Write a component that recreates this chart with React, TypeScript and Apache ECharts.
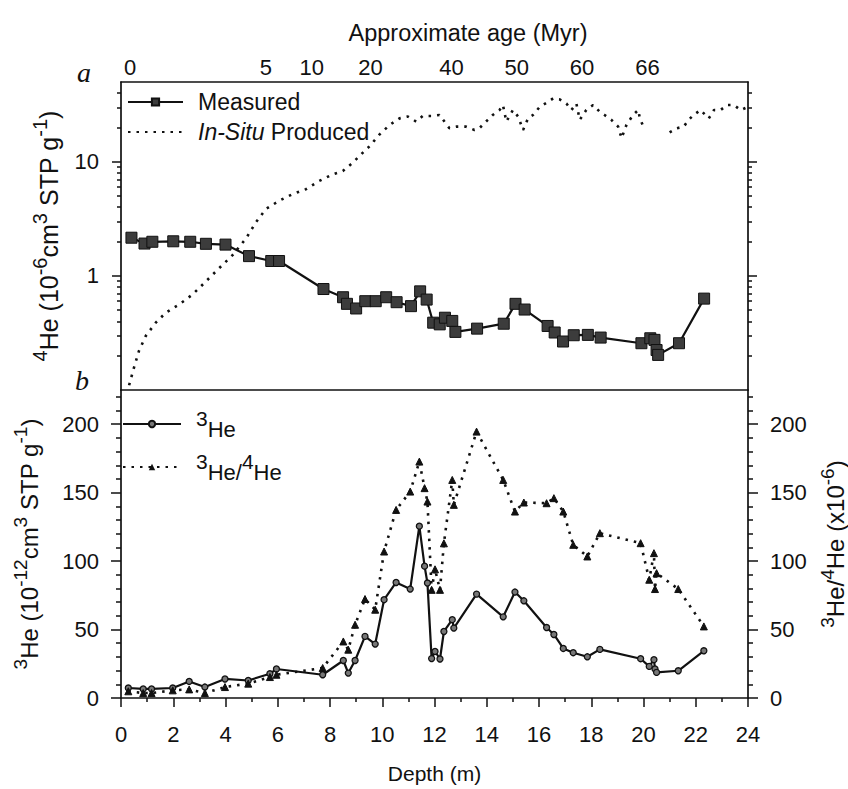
import React, { useEffect, useRef } from 'react';
import * as echarts from 'echarts';

// ---------- Panel a: 4He ----------
const depthA = [0.4, 0.9, 1.2, 2.0, 2.65, 3.25, 4.0, 4.9, 5.75, 6.05, 7.75, 8.5, 8.65, 9.0, 9.35, 9.75, 10.15, 10.55, 11.1, 11.45, 11.7, 11.95, 12.2, 12.4, 12.68, 12.8, 13.63, 14.65, 15.1, 15.45, 16.33, 16.6, 16.92, 17.33, 17.87, 18.36, 19.92, 20.26, 20.42, 20.5, 20.56, 21.36, 22.32];
const he4Measured = [2.16, 1.92, 1.99, 2.01, 1.99, 1.91, 1.88, 1.49, 1.35, 1.35, 0.767, 0.65, 0.569, 0.518, 0.6, 0.6, 0.65, 0.588, 0.543, 0.732, 0.62, 0.389, 0.376, 0.43, 0.403, 0.323, 0.345, 0.381, 0.569, 0.507, 0.364, 0.319, 0.266, 0.302, 0.304, 0.288, 0.257, 0.284, 0.275, 0.224, 0.203, 0.257, 0.632];

const insituDepth = [0.31, 0.5, 0.69, 0.95, 1.33, 1.71, 2.22, 2.73, 3.25, 3.76, 4.27, 4.78, 5.17, 5.55, 6.06, 6.57, 7.08, 7.59, 8.1, 8.49, 8.87, 9.25, 9.51, 9.89, 10.28, 10.66, 10.98, 11.3, 11.55, 11.87, 12.19, 12.38, 12.57, 12.83, 13.21, 13.53, 13.72, 14.04, 14.23, 14.49, 14.62, 14.75, 15.0, 15.2, 15.39, 15.58, 15.77, 16.03, 16.35, 16.54, 16.79, 17.05, 17.24, 17.43, 17.56, 17.81, 18.07, 18.32, 18.51, 18.77, 19.03, 19.16, 19.35, 19.6, 19.8, 19.86, 20.05, 20.5, 21.0, 21.28, 21.54, 21.73, 21.92, 22.18, 22.5, 22.7, 22.95, 23.2, 23.46, 23.72, 24.0];
const insituValue = [0.11, 0.158, 0.221, 0.298, 0.389, 0.475, 0.561, 0.684, 0.894, 1.17, 1.52, 2.12, 2.96, 3.86, 4.56, 5.21, 5.75, 6.79, 7.76, 8.29, 9.8, 11.97, 13.65, 17.3, 21.0, 24.0, 24.9, 22.5, 25.2, 25.2, 25.7, 22.5, 19.7, 20.3, 20.3, 19.0, 19.7, 23.3, 25.7, 28.4, 31.4, 22.5, 28.4, 24.9, 19.0, 24.0, 25.7, 30.3, 33.5, 35.9, 35.2, 32.4, 28.4, 32.4, 23.3, 28.4, 31.4, 27.5, 25.7, 23.3, 20.3, 16.1, 21.1, 25.7, 28.4, 24.0, 19.0, null, 18.1, 19.7, 20.3, 23.3, 25.7, 28.4, 24.0, 28.4, 28.4, 31.4, 31.4, 28.4, 30.3];

// ---------- Panel b: 3He and 3He/4He ----------
const depthB = [0.28, 0.85, 1.17, 1.98, 2.61, 3.21, 3.98, 4.87, 5.7, 5.95, 7.72, 8.51, 8.7, 8.96, 9.34, 9.73, 10.07, 10.53, 11.07, 11.42, 11.62, 11.73, 11.89, 12.02, 12.21, 12.36, 12.68, 12.74, 13.61, 14.63, 15.08, 15.42, 16.29, 16.57, 16.93, 17.31, 17.85, 18.33, 19.89, 20.22, 20.4, 20.44, 20.5, 21.33, 22.31];
const he3 = [7.3, 6.6, 6.6, 7.3, 12.1, 8.0, 13.9, 12.8, 17.7, 21.2, 17.0, 27.4, 18.2, 27.4, 45.0, 39.4, 71.8, 84.4, 79.6, 125.5, 96.3, 84.0, 28.8, 34.0, 28.5, 48.6, 57.2, 51.1, 75.9, 59.3, 77.4, 71.0, 51.5, 46.4, 36.2, 33.1, 30.1, 35.5, 28.7, 23.1, 28.0, 21.2, 18.7, 19.9, 34.5];
const he3he4Ratio = [4.9, 3.6, 3.6, 5.6, 6.3, 3.6, 8.0, 10.5, 15.3, 17.0, 21.9, 41.3, 35.3, 53.5, 72.3, 64.5, 107, 137.4, 150.8, 172.7, 153.3, 143.5, 79, 94, 79, 113, 159.3, 141.1, 194.6, 159.3, 136.2, 142.8, 142.3, 146, 136.2, 111.9, 103.4, 120.4, 113.1, 86.4, 105.8, 79.6, 91.2, 79.6, 52.3];

// ---------- Tick labels ----------
const ageDepths = [0.35, 5.55, 7.3, 9.55, 12.65, 15.15, 17.65, 20.15];
const ageLabels = ['0', '5', '10', '20', '40', '50', '60', '66'];
const logMajor = [1, 10];
const logMinor = [0.2, 0.3, 0.4, 0.5, 0.6, 0.7, 0.8, 0.9, 2, 3, 4, 5, 6, 7, 8, 9, 20, 30, 40];
const linMajor = [0, 50, 100, 150, 200];
const linMinor = [10, 20, 30, 40, 60, 70, 80, 90, 110, 120, 130, 140, 160, 170, 180, 190, 210, 220];

const FONT = '"Liberation Sans", Arial, Helvetica, sans-serif';
const SERIF = '"Liberation Serif", "DejaVu Serif", serif';
const INK = '#111';
const TICK_FS = 22;

const zip = (xs: number[], ys: (number | null)[]) => xs.map((x, i) => [x, ys[i] == null ? '-' : ys[i]]);

const axisLine = { show: true, lineStyle: { color: INK, width: 1.7 } };
const supRich = (n: number, s: number) => ({
  s: { fontSize: s, lineHeight: s, verticalAlign: 'top', fontFamily: FONT, color: INK },
  n: { fontSize: n, lineHeight: n + 6, verticalAlign: 'bottom', fontFamily: FONT, color: INK },
});

function logAxis(position: 'left' | 'right', major: boolean, extra: any = {}) {
  return {
    type: 'log',
    logBase: 10,
    gridIndex: 0,
    position,
    min: 0.1,
    max: 50,
    splitLine: { show: false },
    axisLine: major ? axisLine : { show: false },
    axisTick: {
      show: true,
      inside: false,
      length: major ? 9 : 4,
      customValues: major ? logMajor : logMinor,
      lineStyle: { color: INK, width: 1.5 },
    },
    axisLabel: { show: false },
    ...extra,
  };
}

function linAxis(position: 'left' | 'right', major: boolean, extra: any = {}) {
  return {
    type: 'value',
    gridIndex: 1,
    position,
    min: 0,
    max: 225,
    splitLine: { show: false },
    axisLine: major ? axisLine : { show: false },
    axisTick: {
      show: true,
      inside: false,
      length: major ? 10 : 5,
      customValues: major ? linMajor : linMinor,
      lineStyle: { color: INK, width: 1.5 },
    },
    axisLabel: { show: false },
    ...extra,
  };
}

const tickLabel = { show: true, margin: 22, fontSize: TICK_FS, fontFamily: FONT, color: INK };

const option: any = {
  animation: false,
  backgroundColor: '#fff',
  textStyle: { fontFamily: FONT, color: INK },
  grid: [
    { left: 121, top: 82, width: 627, height: 308, outerBoundsMode: 'none', containLabel: false },
    { left: 121, top: 390, width: 627, height: 308, outerBoundsMode: 'none', containLabel: false },
  ],
  legend: [
    {
      data: [
        { name: 'Measured' },
        { name: 'In-Situ Produced', itemStyle: { opacity: 0 } },
      ],
      orient: 'vertical',
      left: 127,
      top: 90,
      padding: 0,
      itemWidth: 55,
      itemHeight: 9,
      itemGap: 6,
      textStyle: {
        fontSize: 23,
        fontFamily: FONT,
        color: INK,
        lineHeight: 24,
        padding: [0, 0, 0, 10],
        rich: { i: { fontStyle: 'italic', fontSize: 23, lineHeight: 24, fontFamily: FONT, color: INK } },
      },
      formatter: (name: string) => (name === 'In-Situ Produced' ? '{i|In-Situ} Produced' : name),
    },
    {
      data: ['3He', '3He/4He'],
      orient: 'vertical',
      left: 122,
      top: 408,
      padding: 0,
      itemWidth: 58,
      itemHeight: 8,
      itemGap: 11,
      textStyle: {
        fontFamily: FONT,
        color: INK,
        padding: [0, 0, 0, 10],
        rich: {
          s: { fontSize: 21, lineHeight: 21, verticalAlign: 'top', fontFamily: FONT, color: INK },
          t: { fontSize: 22, lineHeight: 32, verticalAlign: 'bottom', fontFamily: FONT, color: INK },
        },
      },
      formatter: (name: string) => (name === '3He' ? '{s|3}{t|He}' : '{s|3}{t|He/}{s|4}{t|He}'),
    },
  ],
  xAxis: [
    {
      type: 'value', gridIndex: 0, position: 'bottom', min: 0, max: 24,
      axisLine, axisTick: { show: false }, axisLabel: { show: false }, splitLine: { show: false },
    },
    {
      type: 'value', gridIndex: 0, position: 'top', min: 0, max: 24,
      axisLine, axisTick: { show: false }, splitLine: { show: false },
      axisLabel: {
        show: true,
        customValues: ageDepths,
        margin: 4,
        fontSize: TICK_FS,
        fontFamily: FONT,
        color: INK,
        formatter: (v: number) => {
          const i = ageDepths.findIndex((d) => Math.abs(d - v) < 1e-6);
          return i >= 0 ? ageLabels[i] : '';
        },
      },
    },
    {
      type: 'value', gridIndex: 1, position: 'bottom', min: 0, max: 24, interval: 2,
      axisLine,
      axisTick: { show: true, inside: false, length: 9, lineStyle: { color: INK, width: 1.5 } },
      minorTick: { show: true, splitNumber: 2, length: 4, lineStyle: { color: INK, width: 1.5 } },
      splitLine: { show: false },
      axisLabel: { ...tickLabel, margin: 25 },
      name: 'Depth (m)',
      nameLocation: 'middle',
      nameGap: 65,
      nameTextStyle: { fontSize: 21, fontFamily: FONT, color: INK },
    },
  ],
  yAxis: [
    logAxis('left', true, {
      axisLabel: { ...tickLabel, customValues: logMajor },
      name: '{s|4}{n|He (10}{s|-6}{n|cm}{s|3}{n| STP g}{s|-1}{n|)}',
      nameLocation: 'middle',
      nameRotate: 90,
      nameGap: 60,
      nameTextStyle: { rich: supRich(25, 20) },
    }),
    logAxis('left', false),
    logAxis('right', true),
    logAxis('right', false),
    linAxis('left', true, {
      axisLabel: { ...tickLabel, customValues: linMajor },
      name: '{s|3}{n|He (10}{s|-12}{n|cm}{s|3}{n| STP g}{s|-1}{n|)}',
      nameLocation: 'middle',
      nameRotate: 90,
      nameGap: 80,
      nameTextStyle: { rich: supRich(24, 19) },
    }),
    linAxis('left', false),
    linAxis('right', true, {
      axisLabel: { ...tickLabel, customValues: linMajor },
      name: '{s|3}{n|He/}{s|4}{n|He (x10}{s|-6}{n|)}',
      nameLocation: 'middle',
      nameRotate: 90,
      nameGap: 68,
      nameTextStyle: { rich: supRich(24, 19) },
    }),
    linAxis('right', false),
  ],
  series: [
    {
      name: 'Measured',
      type: 'line',
      xAxisIndex: 0,
      yAxisIndex: 0,
      data: zip(depthA, he4Measured),
      symbol: 'rect',
      symbolSize: 11,
      itemStyle: { color: '#3c3c3c', borderColor: INK, borderWidth: 1 },
      lineStyle: { color: INK, width: 2.2 },
      z: 3,
    },
    {
      name: 'In-Situ Produced',
      type: 'line',
      xAxisIndex: 0,
      yAxisIndex: 0,
      data: zip(insituDepth, insituValue),
      symbol: 'none',
      connectNulls: false,
      itemStyle: { color: INK },
      lineStyle: { color: INK, width: 2.6, type: [2.5, 6] },
    },
    {
      name: '3He',
      type: 'line',
      xAxisIndex: 2,
      yAxisIndex: 4,
      data: zip(depthB, he3),
      symbol: 'circle',
      symbolSize: 6,
      itemStyle: { color: '#777', borderColor: INK, borderWidth: 1.3 },
      lineStyle: { color: INK, width: 2.2 },
      z: 3,
    },
    {
      name: '3He/4He',
      type: 'line',
      xAxisIndex: 2,
      yAxisIndex: 6,
      data: zip(depthB, he3he4Ratio),
      symbol: 'triangle',
      symbolSize: 7,
      itemStyle: { color: INK, borderColor: INK },
      lineStyle: { color: INK, width: 2.6, type: [2.5, 6] },
    },
  ],
  graphic: [
    {
      type: 'text', x: 468, y: 33,
      style: { text: 'Approximate age (Myr)', fontSize: 23.5, fontFamily: FONT, fill: INK, align: 'center', verticalAlign: 'middle' },
    },
    {
      type: 'text', x: 84, y: 72,
      style: { text: 'a', fontSize: 28, fontStyle: 'italic', fontFamily: SERIF, fill: INK, align: 'center', verticalAlign: 'middle' },
    },
    {
      type: 'text', x: 82, y: 380,
      style: { text: 'b', fontSize: 28, fontStyle: 'italic', fontFamily: SERIF, fill: INK, align: 'center', verticalAlign: 'middle' },
    },
  ],
};

export default function App() {
  const ref = useRef<HTMLDivElement>(null);
  useEffect(() => {
    if (!ref.current) return;
    const chart = echarts.init(ref.current, null, { renderer: 'svg' });
    chart.setOption(option);
    return () => chart.dispose();
  }, []);
  return <div ref={ref} style={{ position: 'fixed', left: 0, top: 0, width: 848, height: 789, overflow: 'hidden' }} />;
}
